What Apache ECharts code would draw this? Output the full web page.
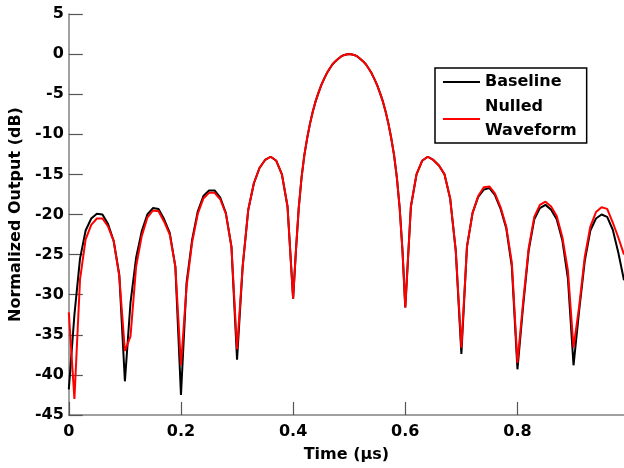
<!DOCTYPE html>
<html>
<head>
<meta charset="utf-8">
<script src="https://cdn.jsdelivr.net/npm/echarts@6/dist/echarts.min.js"></script>
<style>
html,body{margin:0;padding:0;background:#fff;}
#chart{width:624px;height:468px;}
</style>
</head>
<body>
<div id="chart"></div>
<script>
// Time samples (µs) — finer sampling across the main lobe
const time = [
  0.00,0.01,0.02,0.03,0.04,0.05,0.06,0.07,0.08,0.09,
  0.10,0.11,0.12,0.13,0.14,0.15,0.16,0.17,0.18,0.19,
  0.20,0.21,0.22,0.23,0.24,0.25,0.26,0.27,0.28,0.29,
  0.30,0.31,0.32,0.33,0.34,0.35,0.36,0.37,0.38,0.39,
  0.400,0.405,0.410,0.415,0.420,0.425,0.430,0.435,0.440,0.445,
  0.450,0.455,0.460,0.465,0.470,0.475,0.480,0.485,0.490,0.495,
  0.500,0.505,0.510,0.515,0.520,0.525,0.530,0.535,0.540,0.545,
  0.550,0.555,0.560,0.565,0.570,0.575,0.580,0.585,0.590,0.595,
  0.60,0.61,0.62,0.63,0.64,0.65,0.66,0.67,0.68,0.69,
  0.70,0.71,0.72,0.73,0.74,0.75,0.76,0.77,0.78,0.79,
  0.80,0.81,0.82,0.83,0.84,0.85,0.86,0.87,0.88,0.89,
  0.90,0.91,0.92,0.93,0.94,0.95,0.96,0.97,0.98,0.99
];
// Baseline (dB)
const baseline = [
  -41.8,-32.5,-25.5,-22.0,-20.5,-19.9,-20.0,-21.2,-23.3,-27.5,
  -40.8,-31.0,-25.4,-22.1,-20.0,-19.2,-19.3,-20.6,-22.3,-26.5,
  -42.5,-28.5,-23.1,-19.6,-17.7,-17.0,-17.0,-17.9,-19.8,-24.0,
  -38.1,-26.5,-19.4,-16.1,-14.2,-13.2,-12.8,-13.3,-15.0,-19.0,
  -30.5,-24.5,-19.2,-15.4,-12.6,-10.5,-8.7,-7.2,-5.9,-4.86,
  -3.9,-3.12,-2.4,-1.83,-1.3,-0.91,-0.6,-0.32,-0.14,-0.04,
  0.0,-0.04,-0.14,-0.32,-0.6,-0.91,-1.3,-1.83,-2.4,-3.12,
  -3.9,-4.86,-5.9,-7.2,-8.7,-10.5,-12.6,-15.4,-19.2,-24.5,
  -31.6,-19.0,-15.0,-13.3,-12.8,-13.2,-13.9,-15.0,-18.0,-24.5,
  -37.4,-24.0,-19.8,-17.8,-16.9,-16.7,-17.6,-19.3,-21.7,-26.5,
  -39.3,-31.5,-24.5,-20.6,-19.2,-18.8,-19.4,-20.6,-23.2,-28.0,
  -38.8,-32.0,-25.8,-22.0,-20.5,-20.0,-20.3,-21.9,-24.8,-28.2
];
// Nulled Waveform (dB)
const nulled = [
  -32.2,-43.0,-28.1,-23.1,-21.3,-20.5,-20.5,-21.5,-23.3,-27.7,
  -37.0,-35.2,-26.5,-22.7,-20.4,-19.5,-19.6,-20.9,-22.5,-26.5,
  -38.8,-29.0,-23.4,-19.9,-18.0,-17.3,-17.3,-18.1,-19.9,-24.0,
  -36.8,-26.5,-19.4,-16.1,-14.2,-13.2,-12.8,-13.3,-15.0,-19.0,
  -30.5,-24.5,-19.2,-15.4,-12.6,-10.5,-8.7,-7.2,-5.9,-4.86,
  -3.9,-3.12,-2.4,-1.83,-1.3,-0.91,-0.6,-0.32,-0.14,-0.04,
  0.0,-0.04,-0.14,-0.32,-0.6,-0.91,-1.3,-1.83,-2.4,-3.12,
  -3.9,-4.86,-5.9,-7.2,-8.7,-10.5,-12.6,-15.4,-19.2,-24.5,
  -31.6,-19.0,-15.0,-13.3,-12.8,-13.2,-13.9,-15.0,-18.0,-24.5,
  -36.6,-24.0,-19.8,-17.7,-16.6,-16.5,-17.4,-19.1,-21.5,-26.0,
  -38.5,-31.0,-24.2,-20.3,-18.8,-18.4,-19.0,-20.2,-22.8,-27.0,
  -36.6,-31.5,-25.3,-21.5,-19.7,-19.1,-19.3,-21.0,-22.9,-25.0
];
const xTicks = [0, 0.2, 0.4, 0.6, 0.8];
const seriesNames = ['Baseline', 'Nulled\nWaveform'];

const font = 'DejaVu Sans';
const chart = echarts.init(document.getElementById('chart'));
const pair = (xs, ys) => xs.map((x, i) => [x, ys[i]]);
chart.setOption({
  animation: false,
  backgroundColor: '#fff',
  grid: {left: 64, right: 0, top: 14, bottom: 52, containLabel: false},
  xAxis: {
    type: 'value', min: 0, max: 0.99,
    name: 'Time (µs)', nameLocation: 'middle', nameGap: 32,
    nameTextStyle: {fontFamily: font, fontWeight: 'bold', fontSize: 16, color: '#000'},
    axisLine: {show: true, onZero: false, lineStyle: {color: '#808080', width: 1.5}},
    axisTick: {show: true, inside: true, length: 13, customValues: xTicks, lineStyle: {color: '#555', width: 1.2}},
    axisLabel: {customValues: xTicks, margin: 9, fontFamily: font, fontWeight: 'bold', fontSize: 16, color: '#000',
      formatter: v => String(+v.toFixed(1))},
    splitLine: {show: false}
  },
  yAxis: {
    type: 'value', min: -45, max: 5, interval: 5,
    name: 'Normalized Output (dB)', nameLocation: 'middle', nameGap: 35,
    nameTextStyle: {fontFamily: font, fontWeight: 'bold', fontSize: 16, color: '#000'},
    axisLine: {show: true, lineStyle: {color: '#808080', width: 1.5}},
    axisTick: {show: true, inside: true, length: 14, lineStyle: {color: '#555', width: 1.2}},
    axisLabel: {margin: 5, fontFamily: font, fontWeight: 'bold', fontSize: 16, color: '#000'},
    splitLine: {show: false}
  },
  legend: {
    orient: 'vertical', left: 435, top: 68,
    padding: [2, 10, 0, 8], itemGap: 1,
    itemWidth: 37, itemHeight: 2,
    backgroundColor: '#fff', borderColor: '#000', borderWidth: 1.5,
    textStyle: {fontFamily: font, fontWeight: 'bold', fontSize: 16, color: '#000', lineHeight: 24},
    data: [
      {name: seriesNames[0], icon: 'rect'},
      {name: seriesNames[1], icon: 'rect'}
    ]
  },
  series: [
    {name: seriesNames[0], type: 'line', data: pair(time, baseline), showSymbol: false, symbol: 'none',
      lineStyle: {color: '#000', width: 2}, itemStyle: {color: '#000'}, z: 2},
    {name: seriesNames[1], type: 'line', data: pair(time, nulled), showSymbol: false, symbol: 'none',
      lineStyle: {color: '#ff0000', width: 2}, itemStyle: {color: '#ff0000'}, z: 3}
  ]
});
</script>
</body>
</html>
